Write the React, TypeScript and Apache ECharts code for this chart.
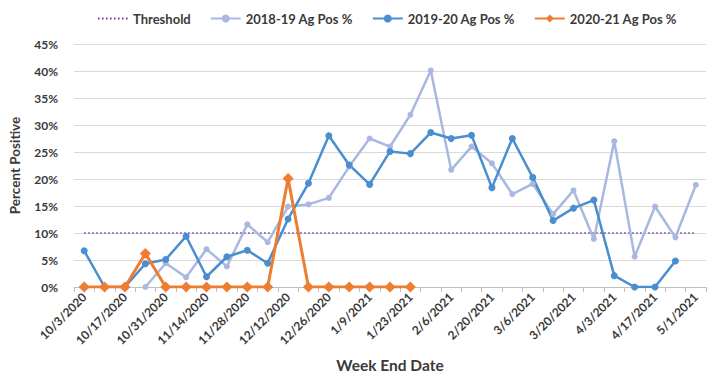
import React, { useEffect, useRef } from "react";
import * as echarts from "echarts";

const weeks: string[] = [
  "10/3/2020", "10/10/2020", "10/17/2020", "10/24/2020", "10/31/2020", "11/7/2020",
  "11/14/2020", "11/21/2020", "11/28/2020", "12/5/2020", "12/12/2020", "12/19/2020",
  "12/26/2020", "1/2/2021", "1/9/2021", "1/16/2021", "1/23/2021", "1/30/2021",
  "2/6/2021", "2/13/2021", "2/20/2021", "2/27/2021", "3/6/2021", "3/13/2021",
  "3/20/2021", "3/27/2021", "4/3/2021", "4/10/2021", "4/17/2021", "4/24/2021", "5/1/2021",
];

const threshold: number[] = weeks.map(() => 10);

const season1819: (number | null)[] = [
  null, null, null, 0, 4.4, 1.8, 7.0, 3.8, 11.6, 8.3, 14.9, 15.3, 16.5, 22.3, 27.5, 26.0,
  31.9, 40.1, 21.7, 26.0, 22.9, 17.2, 19.1, 13.5, 17.9, 8.9, 27.0, 5.6, 14.9, 9.2, 18.9,
];

const season1920: (number | null)[] = [
  6.7, 0, 0, 4.3, 5.1, 9.4, 1.9, 5.6, 6.8, 4.4, 12.6, 19.2, 28.0, 22.6, 19.0, 25.1,
  24.7, 28.6, 27.5, 28.1, 18.4, 27.5, 20.3, 12.3, 14.6, 16.1, 2.1, 0, 0, 4.8, null,
];

const season2021: (number | null)[] = [
  0, 0, 0, 6.2, 0, 0, 0, 0, 0, 0, 20.1, 0, 0, 0, 0, 0, 0,
  null, null, null, null, null, null, null, null, null, null, null, null, null, null,
];

const FONT = "Lato";
const TXT = "#3a3a3a";

export default function App() {
  const ref = useRef<HTMLDivElement>(null);
  useEffect(() => {
    if (!ref.current) return;
    const chart = echarts.init(ref.current, null, { renderer: "svg" });
    chart.setOption({
      animation: false,
      textStyle: { fontFamily: FONT },
      legend: {
        top: 7,
        left: 92,
        itemWidth: 30,
        itemHeight: 10,
        itemGap: 19,
        textStyle: { fontFamily: FONT, fontWeight: "bold", fontSize: 13, color: TXT },
        data: [
          { name: "Threshold", itemStyle: { opacity: 0 } },
          "2018-19 Ag Pos %",
          "2019-20 Ag Pos %",
          "2020-21 Ag Pos %",
        ],
      },
      grid: { left: 74, right: 18, top: 44, bottom: 87.5, containLabel: false },
      xAxis: {
        type: "category",
        data: weeks,
        boundaryGap: true,
        name: "Week End Date",
        nameLocation: "middle",
        nameGap: 70,
        nameTextStyle: { fontFamily: FONT, fontWeight: "bold", fontSize: 15.5, color: TXT },
        axisLine: { lineStyle: { color: "#bfbfbf", width: 1 } },
        axisTick: { show: true, interval: 0, length: 5, lineStyle: { color: "#bfbfbf" } },
        axisLabel: {
          interval: 1,
          rotate: 45,
          fontFamily: FONT,
          fontWeight: "bold",
          fontSize: 12,
          color: TXT,
          margin: 8,
        },
        splitLine: { show: false },
      },
      yAxis: {
        type: "value",
        min: 0,
        max: 45,
        interval: 5,
        name: "Percent Positive",
        nameLocation: "middle",
        nameGap: 52,
        nameTextStyle: { fontFamily: FONT, fontWeight: "bold", fontSize: 13.5, color: TXT },
        axisLine: { show: false },
        axisTick: { show: false },
        axisLabel: {
          formatter: "{value}%",
          fontFamily: FONT,
          fontWeight: "bold",
          fontSize: 12,
          color: TXT,
          margin: 16,
        },
        splitLine: { lineStyle: { color: "#d9d9d9", width: 1 } },
      },
      series: [
        {
          name: "Threshold",
          type: "line",
          data: threshold,
          symbol: "none",
          color: "#7030A0",
          lineStyle: { color: "#7030A0", width: 1.5, type: [1.5, 2.5] },
        },
        {
          name: "2018-19 Ag Pos %",
          type: "line",
          data: season1819,
          symbol: "circle",
          symbolSize: 6,
          color: "#A9B8E1",
          itemStyle: { color: "#A9B8E1" },
          lineStyle: { color: "#A9B8E1", width: 2.5 },
        },
        {
          name: "2019-20 Ag Pos %",
          type: "line",
          data: season1920,
          symbol: "circle",
          symbolSize: 7,
          color: "#4A8ECF",
          itemStyle: { color: "#4A8ECF" },
          lineStyle: { color: "#4A8ECF", width: 2.5 },
        },
        {
          name: "2020-21 Ag Pos %",
          type: "line",
          data: season2021,
          symbol: "diamond",
          symbolSize: 11,
          color: "#ED7D31",
          itemStyle: { color: "#ED7D31" },
          lineStyle: { color: "#ED7D31", width: 3 },
        },
      ],
    });
    return () => chart.dispose();
  }, []);
  return <div ref={ref} style={{ width: 724, height: 378, position: "absolute", left: 0, top: 0 }} />;
}
